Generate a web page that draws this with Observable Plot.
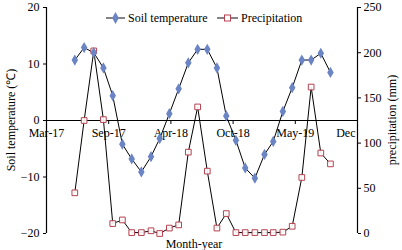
<!DOCTYPE html>
<html>
<head>
<meta charset="utf-8">
<script src="https://cdn.jsdelivr.net/npm/d3@7"></script>
<script src="https://cdn.jsdelivr.net/npm/@observablehq/plot@0.6"></script>
<style>
  html, body { margin: 0; padding: 0; background: #fff; }
  svg { font-family: "Liberation Serif", "Times New Roman", serif; }
</style>
</head>
<body>
<div id="chart"></div>
<script>
// Monthly observations (mid-month), Jun 2017 – Sep 2019
const months = [
  "2017-06-15","2017-07-15","2017-08-15","2017-09-15","2017-10-15","2017-11-15","2017-12-15",
  "2018-01-15","2018-02-15","2018-03-15","2018-04-15","2018-05-15","2018-06-15","2018-07-15",
  "2018-08-15","2018-09-15","2018-10-15","2018-11-15","2018-12-15","2019-01-15","2019-02-15",
  "2019-03-15","2019-04-15","2019-05-15","2019-06-15","2019-07-15","2019-08-15","2019-09-15"
];
// Soil temperature (°C)
const soilTemp = [
  10.7, 12.9, 12.0, 9.3, 4.4, -4.2, -6.8, -9.1, -6.4, -3.2, 1.2, 5.6, 10.2, 12.6,
  12.6, 9.3, 0.8, -3.5, -8.4, -10.2, -6.0, -3.7, 1.6, 5.8, 10.7, 10.7, 11.9, 8.5
];
// Precipitation (mm)
const precip = [
  45, 125, 202, 126, 11, 15, 1, 1, 3, 0, 6, 9.5, 90, 140,
  69, 6, 22, 1, 1, 1, 1, 1, 1.5, 8, 62, 162, 89, 77
];
// X axis tick labels (date axis, one label every 200 days)
const xTickLabels = ["Mar-17", "Sep-17", "Apr-18", "Oct-18", "May-19", "Dec"];
const leftTicks = [-20, -10, 0, 10, 20];
const rightTicks = [0, 50, 100, 150, 200, 250];

const axisStart = new Date(Date.UTC(2017, 2, 16));
const tickStep = 200 * 24 * 3600 * 1000;
const xTicks = xTickLabels.map((label, i) => ({label, date: new Date(+axisStart + i * tickStep)}));
const axisEnd = xTicks[xTicks.length - 1].date;

// secondary axis mapping: precipitation 0..250 -> temperature -20..20
const toLeft = p => -20 + p * 40 / 250;
const toRight = t => (t + 20) * 250 / 40;

const data = months.map((m, i) => ({date: new Date(m), temp: soilTemp[i], precip: precip[i], p: toLeft(precip[i])}));

const blue = "#6b84c4";
const red = "#b5414f";

const chart = Plot.plot({
  width: 402,
  height: 250,
  marginLeft: 46,
  marginRight: 45,
  marginTop: 7,
  marginBottom: 17,
  style: {fontFamily: "Liberation Serif, Times New Roman, serif", fontSize: "12px", background: "#fff", color: "#000"},
  x: {type: "utc", domain: [axisStart, axisEnd], axis: null},
  y: {domain: [-20, 20], axis: null},
  marks: [
    Plot.ruleX([axisStart, axisEnd], {stroke: "#000", strokeWidth: 1.2}),
    Plot.axisY(leftTicks, {anchor: "left", tickSize: 3, tickPadding: 4, label: null, fontSize: 12}),
    Plot.axisY(rightTicks.map(toLeft), {anchor: "right", tickSize: 3, tickPadding: 3, label: null, fontSize: 12, tickFormat: d => Math.round(toRight(d))}),
    Plot.ruleY([0], {stroke: "#000", strokeWidth: 1.2}),
    Plot.ruleX(xTicks, {x: "date", y1: 0, y2: 0, insetBottom: -4, stroke: "#000"}),
    Plot.text(xTicks.slice(0, -1), {x: "date", y: 0, text: "label", dy: 13, fontSize: 12}),
    Plot.text(xTicks.slice(-1), {x: "date", y: 0, text: "label", dy: 13, dx: -2, textAnchor: "end", fontSize: 12}),
    Plot.line(data, {x: "date", y: "p", stroke: "#000", strokeWidth: 1}),
    Plot.line(data, {x: "date", y: "temp", stroke: "#000", strokeWidth: 1}),
    Plot.dot(data, {x: "date", y: "p", symbol: "square", r: 3.2, fill: "#fff", fillOpacity: 0.9, stroke: red, strokeWidth: 1}),
    Plot.dot(data, {x: "date", y: "temp", symbol: "diamond", r: 3.4, fill: blue, stroke: "none"})
  ]
});

const svg = d3.select(chart);
// axis titles
svg.append("text").attr("transform", "translate(12,120) rotate(-90)").attr("text-anchor", "middle")
  .attr("dominant-baseline", "middle").attr("font-size", 12).attr("fill", "#000").text("Soil temperature (℃)");
svg.append("text").attr("transform", "translate(393,120) rotate(-90)").attr("text-anchor", "middle")
  .attr("dominant-baseline", "middle").attr("font-size", 12).attr("fill", "#000").text("precipitation (mm)");
svg.append("text").attr("x", 194).attr("y", 248).attr("text-anchor", "middle")
  .attr("font-size", 12).attr("fill", "#000").text("Month-year");
// legend
const lg = svg.append("g").attr("text-anchor", "start");
lg.append("line").attr("x1", 106).attr("x2", 125).attr("y1", 18).attr("y2", 18).attr("stroke", "#333").attr("stroke-width", 1.2);
lg.append("path").attr("d", d3.symbol(d3.symbolDiamond, 40)()).attr("transform", "translate(115.5,18)").attr("fill", blue);
lg.append("text").attr("x", 128).attr("y", 22).attr("text-anchor", "start").attr("font-size", 12).attr("fill", "#000").text("Soil temperature");
lg.append("line").attr("x1", 217).attr("x2", 238).attr("y1", 18).attr("y2", 18).attr("stroke", "#333").attr("stroke-width", 1.2);
lg.append("rect").attr("x", 224.5).attr("y", 15).attr("width", 6).attr("height", 6).attr("fill", "#fff").attr("stroke", red);
lg.append("text").attr("x", 241).attr("y", 22).attr("text-anchor", "start").attr("font-size", 12).attr("fill", "#000").text("Precipitation");

document.getElementById("chart").appendChild(chart);
</script>
</body>
</html>
